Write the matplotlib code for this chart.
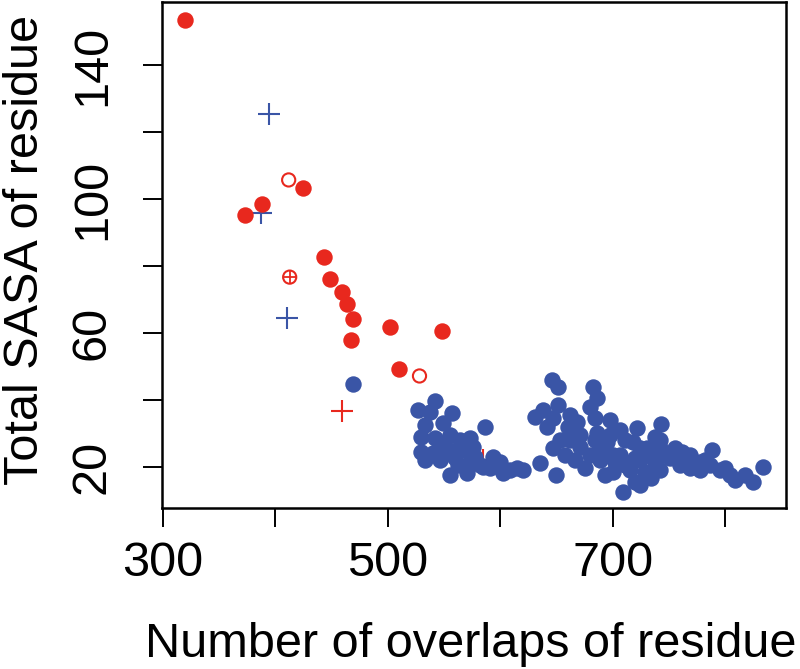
import matplotlib
matplotlib.use("Agg")
import matplotlib.pyplot as plt

RED = "#E8281E"
BLUE = "#3A55A6"

# Red filled circles
red_x = [319.5, 372.8, 387.9, 424.3, 443.0, 448.3, 459.0, 463.4, 468.7, 467.0, 501.6, 548.6, 509.6]
red_y = [153.3, 95.2, 98.5, 103.3, 82.7, 76.1, 72.2, 68.7, 64.2, 57.9, 61.8, 60.6, 49.3]

# Red open circles
red_open_x = [411.9, 528.2]
red_open_y = [105.7, 47.2]

# Red circle-plus
red_cplus_x = [412.8]
red_cplus_y = [76.7]

# Red plus
red_plus_x = [459.0, 585.0]
red_plus_y = [36.7, 22.0]

# Blue plus
blue_plus_x = [394.1, 387.0, 410.1]
blue_plus_y = [125.4, 95.8, 64.5]

# Blue filled circles
blue_x = [468.7,
          542.4, 527.3, 557.5, 533.5, 549.5, 586.8, 529.1, 542.4, 555.7, 573.5,
          529.1, 540.6, 554.0, 567.3, 576.2, 573.5, 555.7, 570.8, 593.9, 591.3,
          602.8, 615.2, 582.4, 562.8,
          646.3, 651.6, 682.7, 686.3, 680.1, 651.6, 638.3, 631.2, 647.2, 662.3,
          668.5, 641.9, 660.5, 684.5, 697.8, 686.3, 721.8, 647.2, 671.2, 635.7,
          620.6, 649.9, 675.6, 688.9, 700.5, 700.5, 718.2, 709.4, 720.0, 730.7,
          695.2,
          743.1, 737.8, 788.4, 833.7, 824.8, 808.8, 761.8, 777.7, 795.5,
          688.9, 706.7, 711.1, 724.5, 737.8, 751.1, 760.0, 768.9, 786.6, 742.2,
          728.9, 715.6, 693.4, 684.5, 697.8, 711.1, 724.5, 742.2, 706.7, 680.1,
          666.8, 746.7, 777.7, 804.4,
          546.6, 559.9, 600.1, 609.0, 533.5, 546.6, 564.4, 537.7,
          585.0, 577.9,
          768.9, 782.2, 800.0, 817.7, 742.2, 755.5, 733.6, 720.0, 702.3, 693.4,
          733.6, 724.5, 671.2, 662.3, 657.9, 653.4]
blue_y = [44.8,
          39.7, 37.0, 36.1, 32.5, 33.1, 31.9, 29.0, 28.7, 29.6, 28.7,
          24.5, 24.2, 25.1, 25.1, 26.0, 21.5, 17.6, 18.2, 23.0, 19.7,
          18.2, 19.7, 20.6, 20.6,
          46.0, 43.9, 43.9, 40.6, 37.9, 38.5, 37.0, 34.9, 34.6, 35.5,
          33.4, 31.9, 31.9, 34.6, 34.0, 30.1, 31.6, 25.7, 26.0, 21.2,
          19.1, 17.6, 19.7, 25.7, 23.6, 18.5, 27.5, 12.5, 15.5, 25.7,
          27.5,
          32.8, 29.0, 25.1, 20.0, 15.5, 16.1, 24.5, 21.5, 19.1,
          22.1, 23.6, 20.6, 22.1, 21.5, 22.7, 20.6, 19.7, 20.6, 19.1,
          18.5, 19.1, 17.6, 28.1, 29.6, 28.1, 25.7, 25.7, 31.0, 23.6,
          22.1, 23.6, 19.1, 17.6,
          22.1, 22.7, 21.5, 19.1, 22.1, 26.6, 28.1, 36.4,
          20.0, 23.0,
          23.6, 22.1, 19.7, 17.6, 28.1, 25.7, 24.5, 22.7, 21.5, 23.6,
          16.7, 14.6, 29.6, 28.1, 23.6, 28.1]

x_ticks = [300, 400, 500, 600, 700, 800]
x_labels = ["300", "", "500", "", "700", ""]
y_ticks = [20, 40, 60, 80, 100, 120, 140]
y_labels = ["20", "", "60", "", "100", "", "140"]

plt.rcParams["font.family"] = ["Liberation Sans", "DejaVu Sans"]

fig = plt.figure(figsize=(8, 6.69), dpi=100)
ax = fig.add_axes([162 / 800, 1 - 508 / 669, (786 - 162) / 800, (508 - 2) / 669])

ax.scatter(red_plus_x, red_plus_y, marker="+", s=270, color=RED, linewidths=1.5, zorder=2)
ax.scatter(blue_plus_x, blue_plus_y, marker="+", s=270, color=BLUE, linewidths=1.5, zorder=2)
ax.scatter(blue_x, blue_y, marker="o", s=140, color=BLUE, linewidths=0, zorder=3)
ax.scatter(red_x, red_y, marker="o", s=140, color=RED, linewidths=0, zorder=4)
ax.scatter(red_open_x, red_open_y, marker="o", s=90, facecolors="none", edgecolors=RED,
           linewidths=1.5, zorder=4)
ax.scatter(red_cplus_x, red_cplus_y, marker="o", s=90, facecolors="none", edgecolors=RED,
           linewidths=1.5, zorder=4)
ax.scatter(red_cplus_x, red_cplus_y, marker="+", s=90, color=RED, linewidths=1.3, zorder=4)

ax.set_xlim(299.3, 854)
ax.set_ylim(7.8, 158.8)
ax.set_xticks(x_ticks)
ax.set_xticklabels(x_labels)
ax.set_yticks(y_ticks)
ax.set_yticklabels(y_labels, rotation=90, va="center")

for sp in ax.spines.values():
    sp.set_linewidth(1.8)
ax.tick_params(axis="both", length=14, width=1.4, direction="out", labelsize=35)
ax.tick_params(axis="x", pad=10)
ax.tick_params(axis="y", pad=20)

fig.text(471 / 800, 1 - 657 / 669, "Number of overlaps of residue", ha="center",
         va="baseline", fontsize=35)
fig.text(3 / 800, 1 - 250 / 669, "Total SASA of residue", ha="left", va="center",
         rotation=90, fontsize=35)

fig.savefig("out.png", dpi=100)
